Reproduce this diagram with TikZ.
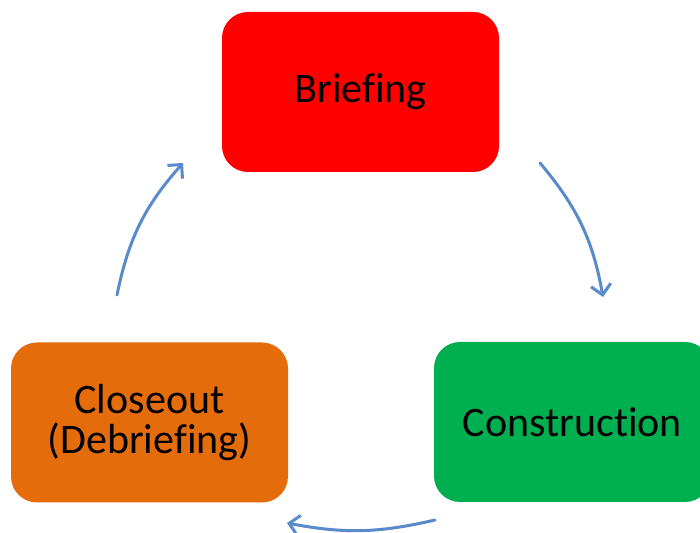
\documentclass[tikz,border=0pt]{standalone}
\usepackage{fontspec}
\setmainfont{Carlito}[Ligatures={NoCommon}]
\usepackage{tikz}
\usetikzlibrary{arrows.meta}
\definecolor{briefred}{RGB}{255,0,0}
\definecolor{constrgreen}{RGB}{0,176,80}
\definecolor{closeorange}{RGB}{228,108,10}
\definecolor{cycleblue}{RGB}{88,138,204}
\tikzset{
  every picture/.style={line join=round, line cap=round},
  phase/.style={rounded corners=13pt, minimum width=138.5pt, minimum height=80pt,
    inner sep=0pt, align=center, text=black, font=\fontsize{21pt}{20pt}\selectfont},
  cycle/.style={draw=cycleblue, line width=1.5pt, -{Straight Barb[length=5pt,width=10pt,line width=1.5pt]}},
}

\begin{document}
\begin{tikzpicture}[x=0.5pt,y=0.5pt]
\useasboundingbox (0,0) rectangle (700,533);
\node[phase,fill=briefred](brief)at(360.5,441){\raisebox{-1pt}{Briefing}};
\node[phase,fill=constrgreen](constr)at(572.5,111){Construction};
\node[phase,fill=closeorange](close)at(149.5,110.5){Closeout\\(Debriefing)};
\coordinate(a1s)at(540,370);
\coordinate(a1e)at(603,236);
\coordinate(a2s)at(435,13);
\coordinate(a2e)at(287,10);
\coordinate(a3s)at(117,238);
\coordinate(a3e)at(183,370);
\draw[cycle](a1s)to[bend left=15](a1e);
\draw[cycle](a2s)to[bend left=12](a2e);
\draw[cycle](a3s)to[bend left=15](a3e);
\end{tikzpicture}
\end{document}
